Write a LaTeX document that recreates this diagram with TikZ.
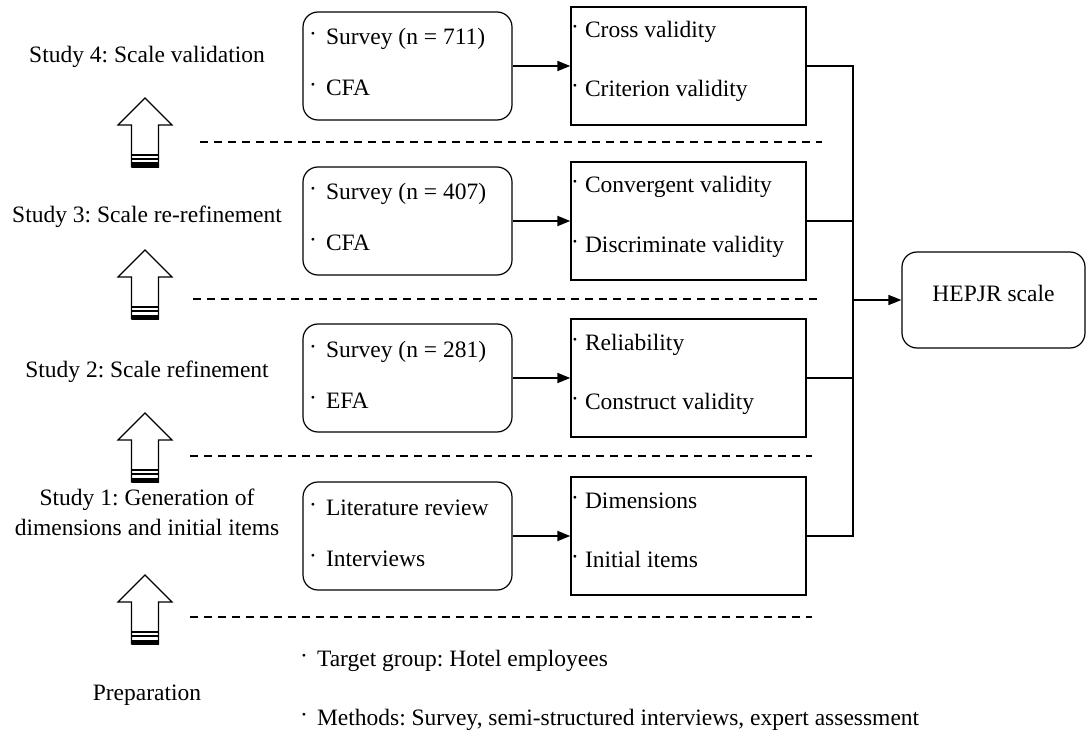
\documentclass[tikz,border=0pt]{standalone}
\usepackage{fontspec}
\setmainfont{Liberation Serif}
\usetikzlibrary{arrows.meta}
\frenchspacing
\newcommand\bdot{\raisebox{3pt}{·}}
\tikzset{
  lbox/.style={draw, line width=1.2pt, rounded corners=15pt, minimum width=209pt, minimum height=108pt, inner sep=0pt},
  rbox/.style={draw, line width=1.4pt, minimum width=235pt, minimum height=118pt, inner sep=0pt},
  hbox/.style={draw, line width=1.2pt, rounded corners=15pt, minimum width=183pt, minimum height=96pt, inner sep=0pt, font=\fontsize{23.5}{28}\selectfont},
  txt/.style={font=\fontsize{23.5}{28}\selectfont, inner sep=0pt, anchor=base west},
  lbl/.style={font=\fontsize{23.5}{30}\selectfont, inner sep=0pt, align=center},
  sep/.style={dash pattern=on 8pt off 6pt, line width=1.4pt},
  flow/.style={line width=2pt, -{Triangle[length=13pt,width=10pt]}},
  link/.style={line width=1.4pt},
  uparrow/.pic={
    \draw[line width=1.2pt, line join=miter] (0,0) -- (27,27) -- (13.5,27) -- (13.5,69) -- (-13.5,69) -- (-13.5,27) -- (-27,27) -- cycle;
    \draw[line width=1.2pt] (-13.5,57) -- (13.5,57);
    \draw[line width=1.2pt] (-13.5,61) -- (13.5,61);
    \fill (-13.5,64.5) rectangle (13.5,69.6);
  }
}
\begin{document}
\begin{tikzpicture}[x=1pt,y=-1pt]
\useasboundingbox (0,0) rectangle (1088,733);

% left labels
\node[lbl] (s4) at (147,57) {Study 4: Scale validation};
\node[lbl] (s3) at (147,217) {Study 3: Scale re-refinement};
\node[lbl] (s2) at (147,372) {Study 2: Scale refinement};
\node[lbl] (s1) at (147,512) {Study 1: Generation of\\dimensions and initial items};
\node[lbl] (pr) at (147,695) {Preparation};

% hollow arrows
\pic at (145,98) {uparrow};
\pic at (145,250) {uparrow};
\pic at (145,413) {uparrow};
\pic at (145,575) {uparrow};

% separators
\draw[sep] (200,142) -- (822,142);
\draw[sep] (193,299) -- (818,299);
\draw[sep] (190,456) -- (812,456);
\draw[sep] (190,617) -- (812,617);

% row boxes
\node[lbox] (l4) at (407.5,66) {};
\node[lbox] (l3) at (407.5,221) {};
\node[lbox] (l2) at (407.5,378) {};
\node[lbox] (l1) at (407.5,536) {};
\node[rbox] (r4) at (688.5,66) {};
\node[rbox] (r3) at (688.5,221) {};
\node[rbox] (r2) at (688.5,378) {};
\node[rbox] (r1) at (688.5,536) {};

% texts in left boxes
\node[txt] (t4a) at (309,45) {\bdot\hspace{9pt}Survey (n = 711)};
\node[txt] (t4b) at (309,96) {\bdot\hspace{9pt}CFA};
\node[txt] (t3a) at (309,200) {\bdot\hspace{9pt}Survey (n = 407)};
\node[txt] (t3b) at (309,251) {\bdot\hspace{9pt}CFA};
\node[txt] (t2a) at (309,357) {\bdot\hspace{9pt}Survey (n = 281)};
\node[txt] (t2b) at (309,408) {\bdot\hspace{9pt}EFA};
\node[txt] (t1a) at (309,515) {\bdot\hspace{9pt}Literature review};
\node[txt] (t1b) at (309,566) {\bdot\hspace{9pt}Interviews};

% texts in right boxes
\node[txt] (u4a) at (571,38) {\bdot\hspace{6pt}Cross validity};
\node[txt] (u4b) at (571,97) {\bdot\hspace{6pt}Criterion validity};
\node[txt] (u3a) at (571,193) {\bdot\hspace{6pt}Convergent validity};
\node[txt] (u3b) at (571,252) {\bdot\hspace{6pt}Discriminate validity};
\node[txt] (u2a) at (571,350) {\bdot\hspace{6pt}Reliability};
\node[txt] (u2b) at (571,409) {\bdot\hspace{6pt}Construct validity};
\node[txt] (u1a) at (571,508) {\bdot\hspace{6pt}Dimensions};
\node[txt] (u1b) at (571,567) {\bdot\hspace{6pt}Initial items};

% bottom texts
\node[txt] (b1) at (300,666) {\bdot\hspace{9pt}Target group: Hotel employees};
\node[txt] (b2) at (300,725) {\bdot\hspace{9pt}Methods: Survey, semi-structured interviews, expert assessment};

% HEPJR
\node[hbox] (hep) at (993.5,300) {\raisebox{13pt}{HEPJR scale}};
\coordinate (j) at (853,300);

% connectors
\draw[flow] (l4) -- (r4);
\draw[flow] (l3) -- (r3);
\draw[flow] (l2) -- (r2);
\draw[flow] (l1) -- (r1);
\draw[link] (r4.east) -| (j);
\draw[link] (r3.east) -| (j);
\draw[link] (r2.east) -| (j);
\draw[link] (r1.east) -| (j);
\draw[flow, line width=1.6pt] (j) -- (hep);
\end{tikzpicture}
\end{document}
